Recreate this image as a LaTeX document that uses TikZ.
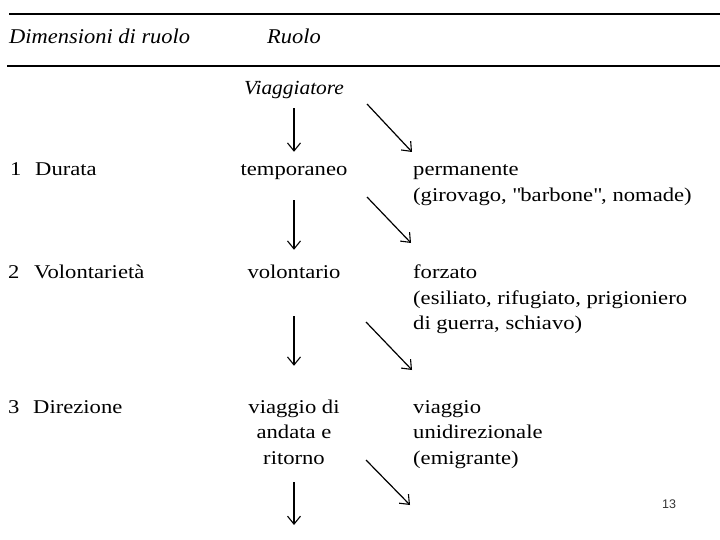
\documentclass[tikz,border=0pt]{standalone}
\usepackage{fontspec}
\setmainfont{Liberation Serif}[FakeStretch=1.16]
\newfontfamily\hdfont{Liberation Serif}[FakeStretch=1.07]
\setsansfont{Liberation Sans}
\usetikzlibrary{arrows.meta}
\begin{document}
\begin{tikzpicture}[x=1pt,y=-1pt,
  txt/.style={inner sep=0pt, font=\fontsize{19.5}{24}\selectfont, text height=13pt, text depth=4pt, anchor=base},
  txtl/.style={txt, anchor=base west},
  hd/.style={inner sep=0pt, font=\hdfont\itshape\fontsize{21}{24}\selectfont, anchor=base west},
  arr/.style={line width=1.2pt, -{Straight Barb[length=8pt,width=13pt,line width=1.1pt]}},
  rulestyle/.style={line width=2.4pt}
]
\useasboundingbox (0,0) rectangle (720,540);
\draw[rulestyle] (9,14) -- (720,14);
\draw[rulestyle] (7,66) -- (720,66);

\node[hd] (hdim) at (9,44) {Dimensioni di ruolo};
\node[hd] (hruolo) at (267,44) {Ruolo};
\node[hd, anchor=base, font=\hdfont\itshape\fontsize{20}{24}\selectfont] (viag) at (294,95) {Viaggiatore};

\node[txtl] (n1) at (10,176) {1};
\node[txtl] (dur) at (35,176) {Durata};
\node[txt] (temp) at (294,176) {temporaneo};
\node[txtl] (perm) at (413,176) {permanente};
\node[txtl] (perm2) at (413,202) {(girovago, \textquotedbl barbone\textquotedbl, nomade)};

\node[txtl] (n2) at (8,278) {2};
\node[txtl] (vol) at (34,278) {Volontarietà};
\node[txt] (volo) at (294,278) {volontario};
\node[txtl] (forz) at (413,278) {forzato};
\node[txtl] (forz2) at (413,304) {(esiliato, rifugiato, prigioniero};
\node[txtl] (forz3) at (413,329) {di guerra, schiavo)};

\node[txtl] (n3) at (8,413) {3};
\node[txtl] (dir) at (33,413) {Direzione};
\node[txt] (and1) at (294,413) {viaggio di};
\node[txt] (and2) at (294,438) {andata e};
\node[txt] (and3) at (294,464) {ritorno};
\node[txtl] (uni1) at (413,413) {viaggio};
\node[txtl] (uni2) at (413,438) {unidirezionale};
\node[txtl] (uni3) at (413,464) {(emigrante)};

\node[font=\sffamily\fontsize{12.5}{14}\selectfont, anchor=base west, inner sep=0pt, text=black!80] (pg) at (662,508) {13};

\draw[arr, shorten <=9pt, shorten >=11pt] (viag.south) -- (temp.north);
\draw[arr, shorten <=20pt, shorten >=15pt] (temp.south) -- (volo.north);
\draw[arr, shorten <=34pt, shorten >=34pt] (volo.south) -- (and1.north);
\coordinate (end4) at (294,525);
\draw[arr, shorten <=14pt] (and3.south) -- (end4);

\coordinate (d1a) at (367,104); \coordinate (d1b) at (412,152);
\coordinate (d2a) at (367,197); \coordinate (d2b) at (411,243);
\coordinate (d3a) at (366,322); \coordinate (d3b) at (412,370);
\coordinate (d4a) at (366,460); \coordinate (d4b) at (410,505);
\draw[arr] (d1a) -- (d1b);
\draw[arr] (d2a) -- (d2b);
\draw[arr] (d3a) -- (d3b);
\draw[arr] (d4a) -- (d4b);
\end{tikzpicture}
\end{document}
